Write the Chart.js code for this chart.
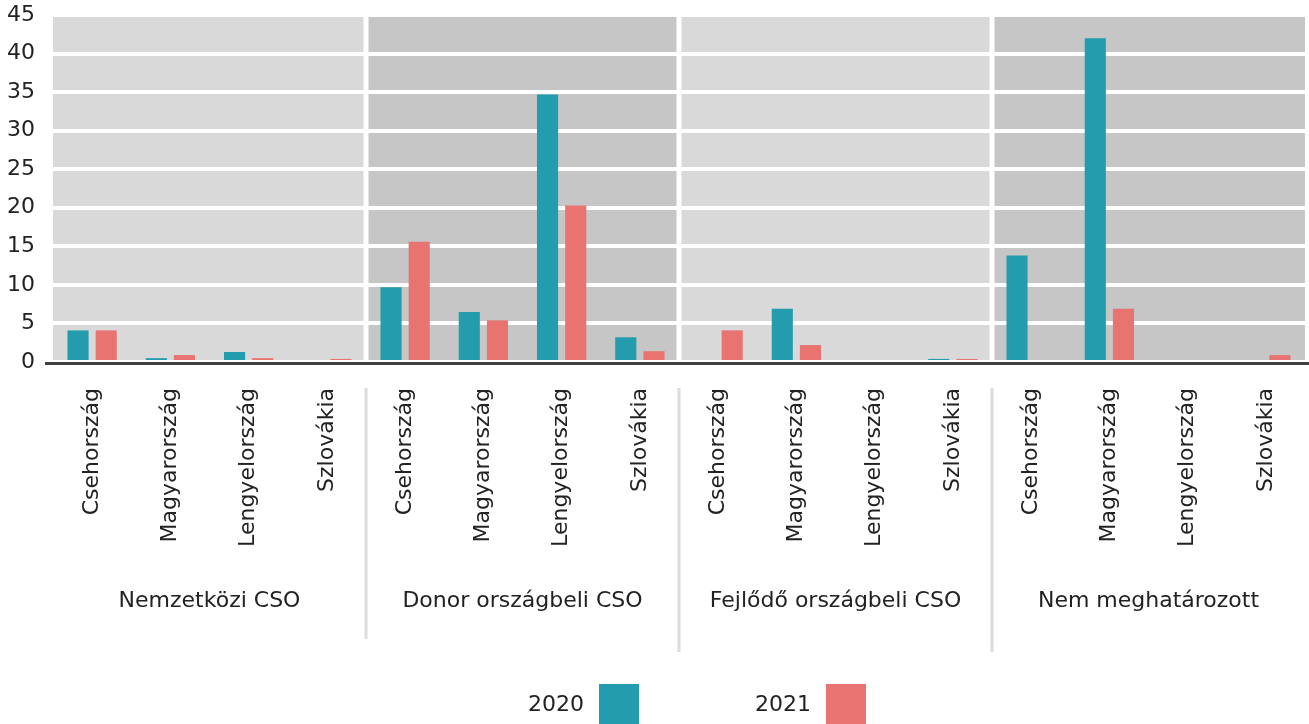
<!DOCTYPE html>
<html lang="hu">
<head>
  <meta charset="UTF-8">
  <title>CSO támogatások országonként</title>
  <script src="https://cdn.jsdelivr.net/npm/chart.js"></script>
  <style>
    html, body { margin: 0; padding: 0; background: #fff; }
    #wrap { width: 1309px; height: 724px; }
  </style>
</head>
<body>
  <div id="wrap"><canvas id="chart" width="1309" height="724"></canvas></div>
  <script>
    // data
    const countries = ['Csehország', 'Magyarország', 'Lengyelország', 'Szlovákia'];
    const groups = ['Nemzetközi CSO', 'Donor országbeli CSO', 'Fejlődő országbeli CSO', 'Nem meghatározott'];
    const years = ['2020', '2021'];
    const values2020 = [4.1, 0.5, 1.3, 0,   9.7, 6.5, 34.7, 3.2,   0, 6.9, 0, 0.4,   13.8, 42.0, 0, 0];
    const values2021 = [4.1, 0.9, 0.5, 0.4, 15.6, 5.4, 20.3, 1.4,  4.1, 2.2, 0, 0.4,  0, 6.9, 0, 0.9];
    const yTicks = [0, 5, 10, 15, 20, 25, 30, 35, 40, 45];

    const colors = ['#239dae', '#e87371'];
    const panelColors = ['#d9d9d9', '#c6c6c6'];
    const font = 'DejaVu Sans';
    const textColor = '#222';

    const labels = [];
    groups.forEach(() => countries.forEach(c => labels.push(c)));

    function boundary(x, i) {
      return (x.getPixelForValue(i - 1) + x.getPixelForValue(i)) / 2;
    }

    const panels = {
      id: 'panels',
      beforeDraw(chart) {
        const { ctx, chartArea: a, scales: { x } } = chart;
        const n = countries.length;
        ctx.save();
        groups.forEach((g, i) => {
          const l = i === 0 ? a.left : boundary(x, i * n);
          const r = i === groups.length - 1 ? a.right : boundary(x, (i + 1) * n);
          ctx.fillStyle = panelColors[i % 2];
          ctx.fillRect(l, a.top, r - l, a.bottom - a.top);
        });
        ctx.restore();
      },
      beforeDatasetsDraw(chart) {
        const { ctx, chartArea: a, scales: { x } } = chart;
        const n = countries.length;
        ctx.save();
        ctx.strokeStyle = '#fff';
        ctx.lineWidth = 5;
        for (let i = 1; i < groups.length; i++) {
          const px = boundary(x, i * n);
          ctx.beginPath();
          ctx.moveTo(px, a.top);
          ctx.lineTo(px, a.bottom);
          ctx.stroke();
        }
        ctx.restore();
      },
      afterDraw(chart) {
        const { ctx, chartArea: a, scales: { x } } = chart;
        const n = countries.length;
        ctx.save();
        // baseline
        ctx.strokeStyle = '#404040';
        ctx.lineWidth = 3;
        ctx.beginPath();
        ctx.moveTo(a.left - 8, a.bottom + 1.5);
        ctx.lineTo(chart.width, a.bottom + 1.5);
        ctx.stroke();
        // separators in the label area
        ctx.strokeStyle = '#dcdcdc';
        ctx.lineWidth = 3;
        const ends = [639, 652, 652];
        for (let i = 1; i < groups.length; i++) {
          const px = boundary(x, i * n);
          ctx.beginPath();
          ctx.moveTo(px, a.bottom + 26);
          ctx.lineTo(px, ends[i - 1]);
          ctx.stroke();
        }
        // legend: text then box
        ctx.font = '22px "' + font + '"';
        ctx.textBaseline = 'middle';
        ctx.textAlign = 'right';
        const boxX = [599, 826];
        years.forEach((yr, i) => {
          ctx.fillStyle = colors[i];
          ctx.fillRect(boxX[i], 684, 40, 40);
          ctx.fillStyle = textColor;
          ctx.fillText(yr, boxX[i] - 15, 705);
        });
        ctx.restore();
      }
    };

    function noPad(s) {
      s.paddingLeft = 0; s.paddingRight = 0;
      s.paddingTop = 0; s.paddingBottom = 0;
    }

    new Chart(document.getElementById('chart'), {
      type: 'bar',
      data: {
        labels: labels,
        datasets: [
          { label: years[0], data: values2020, backgroundColor: colors[0] },
          { label: years[1], data: values2021, backgroundColor: colors[1] }
        ]
      },
      options: {
        responsive: false,
        animation: false,
        events: [],
        layout: { padding: { top: 15, right: 4, bottom: 100, left: 0 } },
        datasets: { bar: { categoryPercentage: 0.72, barPercentage: 0.75 } },
        plugins: {
          legend: { display: false },
          tooltip: { enabled: false }
        },
        scales: {
          x: {
            type: 'category',
            grid: { display: false, drawTicks: false },
            border: { display: false },
            ticks: {
              minRotation: 90, maxRotation: 90, autoSkip: false, padding: 26,
              color: textColor, font: { family: font, size: 22 }
            },
            afterFit(s) { s.height = 218; noPad(s); }
          },
          x2: {
            type: 'category',
            labels: groups,
            position: 'bottom',
            display: true,
            grid: { display: false, drawTicks: false },
            border: { display: false },
            ticks: { padding: 8, color: textColor, font: { family: font, size: 22 } },
            afterFit(s) { s.height = 44; noPad(s); }
          },
          y: {
            min: 0, max: 45,
            afterBuildTicks(s) { s.ticks = yTicks.map(v => ({ value: v })); },
            grid: { color: '#fff', lineWidth: 4, drawTicks: false },
            border: { display: false },
            ticks: { padding: 18, color: textColor, font: { family: font, size: 22 } },
            afterFit(s) { s.width = 53; noPad(s); }
          }
        }
      },
      plugins: [panels]
    });
  </script>
</body>
</html>
